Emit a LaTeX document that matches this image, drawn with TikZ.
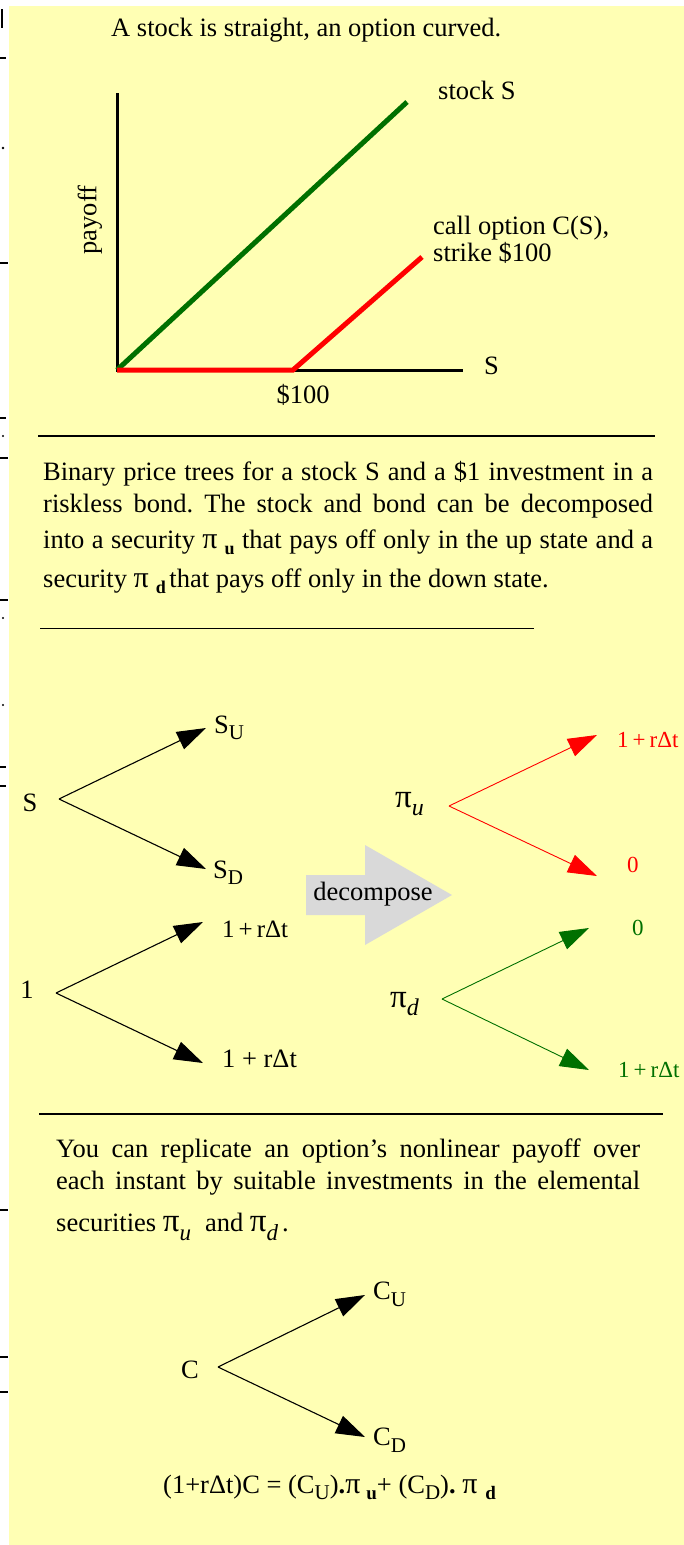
\documentclass[tikz,border=0pt]{standalone}
\usepackage{fontspec}
\setmainfont{Liberation Serif}
\usetikzlibrary{arrows.meta}
\definecolor{bgyellow}{RGB}{255,255,180}
\definecolor{dgreen}{RGB}{0,112,0}
\definecolor{arrgray}{RGB}{217,217,217}
\newcommand{\fs}[1]{\fontsize{#1}{#1}\selectfont}
\newcommand{\lowsub}[3]{\raisebox{-#1pt}{\fs{#2}#3}}
\newcommand{\bigpi}[1]{{\fs{#1}π}}
\frenchspacing
\begin{document}
\begin{tikzpicture}[x=1pt,y=-1pt,
  txt/.style={inner sep=0pt, font=\fs{26.5}},
  axisline/.style={line width=3pt},
  payline/.style={line width=5pt},
  tline/.style={line width=1.1pt, -{Triangle[length=29pt,width=19pt]}},
  rule/.style={line width=2pt},
  frag/.style={line width=2pt}]
\useasboundingbox (0,0) rectangle (684,1545);
\fill[white] (0,0) rectangle (684,1545);
\fill[bgyellow] (9,6) rectangle (684,1545);

% left edge fragments
\draw[line width=1.6pt] (2,9) -- (2,28);
\draw[line width=1.4pt] (0,58) -- (6,58);
\fill (3,148) circle (1.3pt);
\draw[frag] (0,263) -- (8,263);
\draw[line width=1.4pt] (0,418) -- (6,418);
\fill (3,436) circle (1.2pt);
\draw[frag] (0,458) -- (8,458);
\draw[frag] (0,600) -- (8,600);
\fill (3,618) circle (1.2pt);
\fill (3,705) circle (1.2pt);
\draw[line width=1.4pt] (0,767) -- (6,767);
\draw[line width=1.4pt] (0,786) -- (6,786);
\draw[frag] (0,1210) -- (8,1210);
\draw[frag] (0,1357) -- (8,1357);
\draw[frag] (0,1392) -- (8,1392);

% title
\node[txt, anchor=base west] (title) at (111,36) {A stock is straight, an option curved.};

% chart
\coordinate (O) at (117,370);
\coordinate (ytop) at (117,93);
\coordinate (xend) at (463,370);
\coordinate (gend) at (407,102);
\coordinate (kink) at (293,370);
\coordinate (rend) at (422,257);
\draw[axisline] (ytop) -- (O) -- (xend);
\draw[payline, dgreen] (O) -- (gend);
\draw[payline, red] (O) -- (kink) -- (rend);
\node[txt, anchor=base west] (stockS) at (438,99) {stock S};
\node[txt, anchor=base west] (call1) at (433,234) {call option C(S),};
\node[txt, anchor=base west] (call2) at (433,261) {strike \$100};
\node[txt, anchor=base west] (Slab) at (484,374) {S};
\node[txt, anchor=base] (k100) at (303,403) {\$100};
\node[txt, rotate=90] (payoff) at (90,220) {payoff};

\draw[rule] (38,436) -- (655,436);

% paragraph 1
\node[txt, anchor=base west] (p1) at (43,480) {\makebox[610pt][s]{Binary price trees for a stock S and a \$1 investment in a}};
\node[txt, anchor=base west] (p2) at (43,512) {\makebox[610pt][s]{riskless bond. The stock and bond can be decomposed}};
\node[txt, anchor=base west] (p3) at (43,548) {\makebox[610pt][s]{into a security \bigpi{30}\hspace{7pt}\lowsub{6}{18}{\bfseries u} that pays off only in the up state and a}};
\node[txt, anchor=base west] (p4) at (43,587) {security \bigpi{30}\hspace{7pt}\lowsub{6}{18}{\bfseries d}\hspace{-3pt} that pays off only in the down state.};
\draw[line width=1pt] (40,628) -- (534,628);

% stock tree
\node[txt, anchor=base] (S) at (30,811) {S};
\coordinate (Sr) at (59,799);
\coordinate (Su) at (206,728);
\coordinate (Sd) at (206,869);
\draw[tline] (Sr) -- (Su);
\draw[tline] (Sr) -- (Sd);
\node[txt, anchor=base west] (SU) at (214,733) {S\lowsub{6}{21}{U}};
\node[txt, anchor=base west] (SD) at (213,878) {S\lowsub{6}{21}{D}};

% bond tree
\node[txt, anchor=base] (one) at (27,998) {1};
\coordinate (Br) at (56,993);
\coordinate (Bu) at (203,922);
\coordinate (Bd) at (203,1063);
\draw[tline] (Br) -- (Bu);
\draw[tline] (Br) -- (Bd);
\node[txt, anchor=base west, font=\fs{25}] (B1) at (222,937) {1\hspace{4pt}+\hspace{4pt}rΔt};
\node[txt, anchor=base west] (B2) at (222,1067) {1 + rΔt};

% decompose arrow
\fill[arrgray] (306,875) -- (365,875) -- (365,845) -- (452,895) -- (365,945) -- (365,915) -- (306,915) -- cycle;
\node[txt, anchor=base] (dec) at (373,900) {decompose};

% pi_u tree
\node[txt, anchor=base west] (piu) at (395,807) {\bigpi{33}\lowsub{8}{24}{\itshape u}};
\coordinate (Ur) at (449,806);
\coordinate (Uu) at (597,735);
\coordinate (Ud) at (597,876);
\draw[tline, red, line width=0.9pt] (Ur) -- (Uu);
\draw[tline, red, line width=0.9pt] (Ur) -- (Ud);
\node[txt, anchor=base west, font=\fs{23}, text=red] (U1) at (617,747) {1\hspace{4pt}+\hspace{4pt}rΔt};
\node[txt, anchor=base west, font=\fs{23}, text=red] (U0) at (627,872) {0};

% pi_d tree
\node[txt, anchor=base west] (pid) at (390,1007) {\bigpi{33}\lowsub{8}{24}{\itshape d}};
\coordinate (Dr) at (442,999);
\coordinate (Du) at (589,928);
\coordinate (Dd) at (589,1070);
\draw[tline, dgreen, line width=0.9pt] (Dr) -- (Du);
\draw[tline, dgreen, line width=0.9pt] (Dr) -- (Dd);
\node[txt, anchor=base west, font=\fs{23}, text=dgreen] (D0) at (632,935) {0};
\node[txt, anchor=base west, font=\fs{23}, text=dgreen] (D1) at (618,1077) {1\hspace{4pt}+\hspace{4pt}rΔt};

\draw[rule] (39,1114) -- (663,1114);

% paragraph 2
\node[txt, anchor=base west] (q1) at (56,1157) {\makebox[584pt][s]{You can replicate an option’s nonlinear payoff over}};
\node[txt, anchor=base west] (q2) at (56,1189) {\makebox[584pt][s]{each instant by suitable investments in the elemental}};
\node[txt, anchor=base west] (q3) at (56,1231) {securities \bigpi{33}\lowsub{9}{23}{\itshape u}\hspace{14pt}and \bigpi{33}\lowsub{9}{23}{\itshape d}\hspace{4pt}.};

% option tree
\node[txt, anchor=base] (C) at (190,1378) {C};
\coordinate (Cr) at (218,1367);
\coordinate (Cu) at (365,1295);
\coordinate (Cd) at (365,1437);
\draw[tline] (Cr) -- (Cu);
\draw[tline] (Cr) -- (Cd);
\node[txt, anchor=base west] (CU) at (373,1299) {C\lowsub{7}{21}{U}};
\node[txt, anchor=base west] (CD) at (373,1445) {C\lowsub{7}{21}{D}};

\node[txt, anchor=base west] (formula) at (163,1493) {(1+rΔt)C = (C\lowsub{6}{21}{U})\textbf{.}\bigpi{30}\hspace{6pt}\lowsub{6}{19}{\bfseries u}+ (C\lowsub{6}{21}{D})\textbf{.} \bigpi{30}\hspace{8pt}\lowsub{6}{19}{\bfseries d}};
\end{tikzpicture}
\end{document}
